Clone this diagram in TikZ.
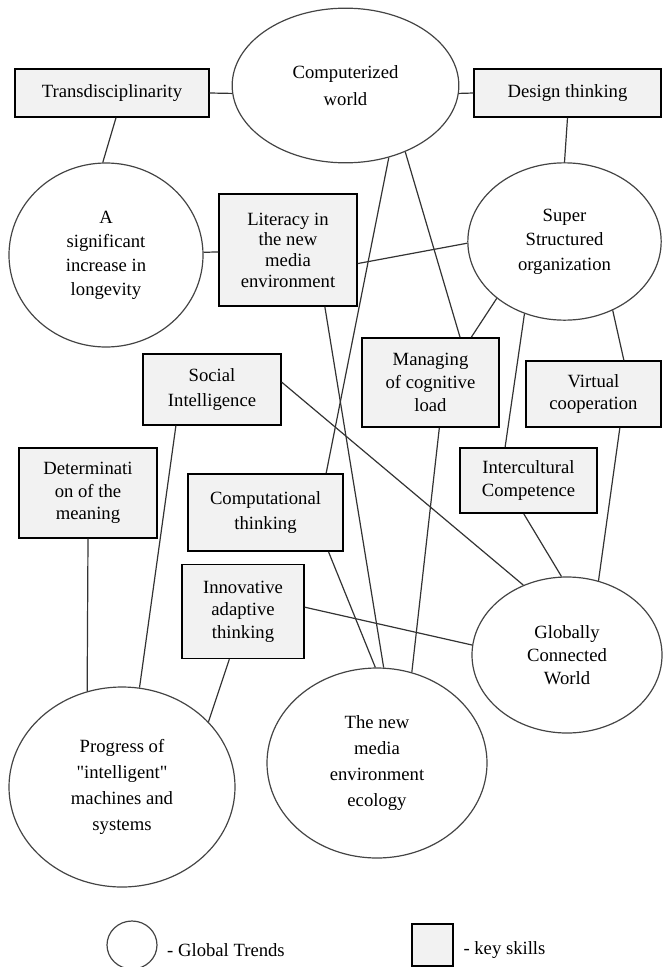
\documentclass[tikz,border=0pt]{standalone}
\usepackage{fontspec}
\setmainfont{Liberation Serif}[Ligatures=TeXOff]
\usetikzlibrary{positioning, shapes.geometric, calc}
\usepackage{xcolor}
\definecolor{skillfill}{HTML}{F2F2F2}
\definecolor{linkgray}{HTML}{333333}
\definecolor{rimgray}{HTML}{444444}

\begin{document}
\begin{tikzpicture}[x=0.75pt, y=-0.75pt, font=\fontsize{14}{17}\selectfont,
    trend/.style={draw=rimgray, line width=0.9pt, ellipse, align=center, inner sep=0pt},
    skill/.style={draw=black, fill=skillfill, line width=1.1pt, rectangle, align=center, inner sep=0pt},
    link/.style={draw=linkgray, line width=0.9pt}]
  \useasboundingbox (0,0) rectangle (662,967);

  % global trends
  \node[trend, minimum width=170pt, minimum height=116pt, font=\fontsize{14}{20}\selectfont] (world) at (345.5,85.5) {Computerized\\world};
  \node[trend, minimum width=145.5pt, minimum height=138pt, font=\fontsize{14}{18}\selectfont] (life) at (106,255) {A\\significant\\increase in\\longevity};
  \node[trend, minimum width=145pt, minimum height=118pt, font=\fontsize{14}{18.5}\selectfont] (super) at (564.5,241.5) {Super\\Structured\\organization};
  \node[trend, minimum width=142.5pt, minimum height=117pt] (globally) at (567,655) {Globally\\Connected\\World};
  \node[trend, minimum width=165pt, minimum height=142.5pt, font=\fontsize{14}{19.5}\selectfont] (newmedia) at (377,763) {The new\\media\\environment\\ecology};
  \node[trend, minimum width=169.5pt, minimum height=150pt, font=\fontsize{14}{19.5}\selectfont] (progress) at (122,787) {Progress of\\"intelligent"\\machines and\\systems};

  % key skills
  \node[skill, minimum width=145.5pt, minimum height=36pt] (trans) at (112,93) {Transdisciplinarity};
  \node[skill, minimum width=140pt, minimum height=36pt] (design) at (567.5,93) {Design thinking};
  \node[skill, minimum width=103.5pt, minimum height=84pt, font=\fontsize{14}{15.5}\selectfont] (lit) at (288,250) {Literacy in\\the new\\media\\environment};
  \node[skill, minimum width=103.5pt, minimum height=53pt, font=\fontsize{14}{18.5}\selectfont] (social) at (212,389.5) {Social\\Intelligence};
  \node[skill, minimum width=103.5pt, minimum height=67.5pt] (determ) at (88,493) {Determinati\\on of the\\meaning};
  \node[skill, minimum width=116pt, minimum height=58pt, font=\fontsize{14}{18.5}\selectfont] (comput) at (265.5,512.5) {Computational\\thinking};
  \node[skill, minimum width=91.5pt, minimum height=70.5pt] (innov) at (243,611.5) {Innovative\\adaptive\\thinking};
  \node[skill, minimum width=103pt, minimum height=67pt] (managing) at (430.5,382.5) {Managing\\of cognitive\\load};
  \node[skill, minimum width=101pt, minimum height=49.5pt, font=\fontsize{14}{16}\selectfont] (virtual) at (593.5,394) {Virtual\\cooperation};
  \node[skill, minimum width=103pt, minimum height=49pt] (intercult) at (528.5,480.5) {Intercultural\\Competence};

  % links
  \draw[link] (trans.east) -- (world.184);
  \draw[link] ([xshift=3pt]trans.south) -- (life.92);
  \draw[link] (life) -- (lit);
  \draw[link] (world.356) -- (design.west);
  \draw[link] (design.south) -- (super.north);
  \draw[link] (lit.349) -- (super.181);
  \draw[link] (world.301) -- (comput.33);
  \draw[link] (world.312) -- (managing.57);
  \draw[link] (super.220) -- (managing.48);
  \draw[link] (super.241) -- (intercult.125);
  \draw[link] (super.305) -- (virtual.48);
  \draw[link] (virtual.308) -- (globally.67);
  \draw[link] (intercult.262) -- (globally.94);
  \draw[link] (social.6) -- (globally.122);
  \draw[link] (social.225) -- (progress.80);
  \draw[link] (determ.south) -- (progress.110);
  \draw[link] (innov.4) -- (globally.174);
  \draw[link] (innov.254) -- (progress.37);
  \draw[link] (lit.303) -- (newmedia.86);
  \draw[link] (comput.328) -- (newmedia.91);
  \draw[link] (managing.281) -- (newmedia.69);

  % legend
  \node[trend, minimum width=37.5pt, minimum height=36pt] (keytrend) at (132,945) {};
  \node[right=7pt of keytrend, yshift=-4pt, inner sep=0pt] (keytrendlbl) {- Global Trends};
  \node[skill, minimum width=31pt, minimum height=31.5pt] (keyskill) at (432.5,945) {};
  \node[right=7pt of keyskill, yshift=-4pt, inner sep=0pt] (keyskilllbl) {- key skills};
\end{tikzpicture}
\end{document}
